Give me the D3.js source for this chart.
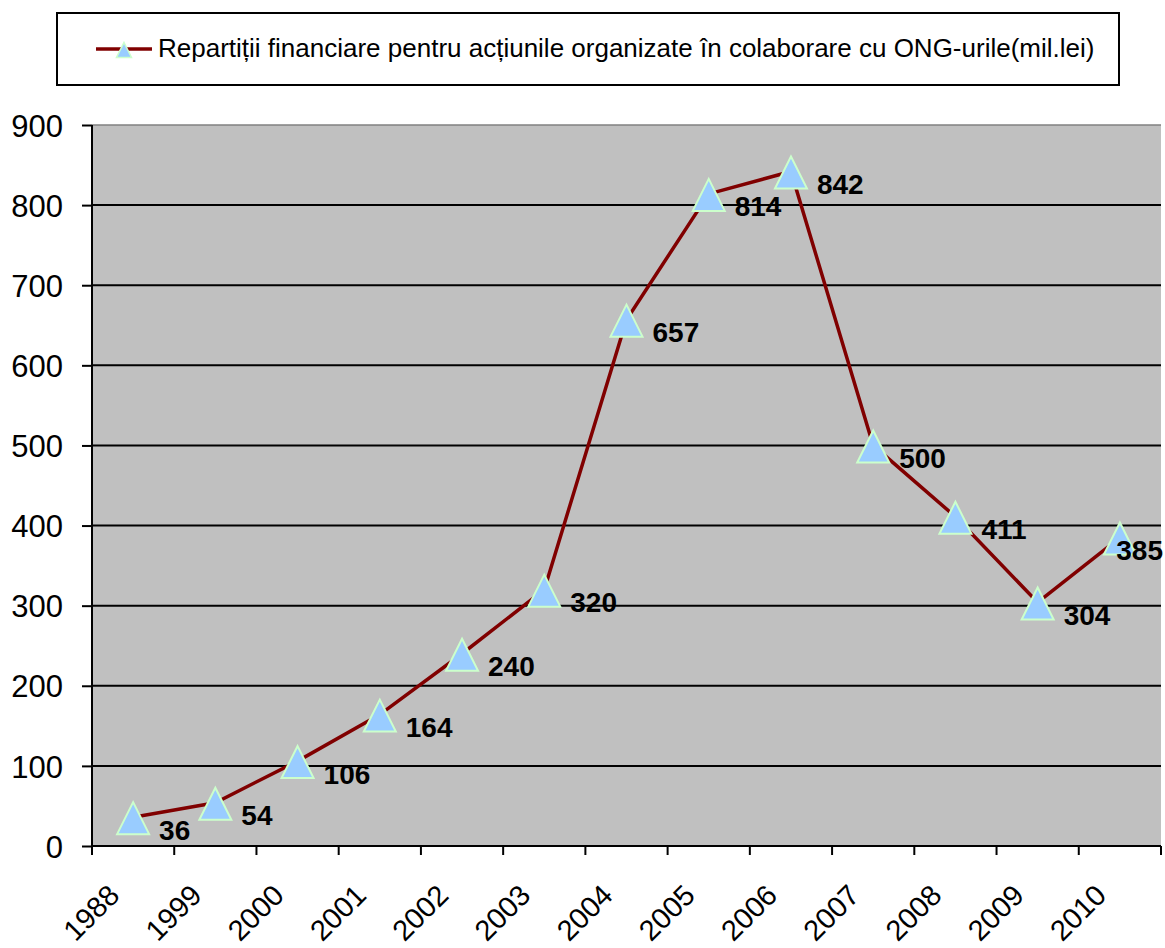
<!DOCTYPE html>
<html>
<head>
<meta charset="utf-8">
<style>
	body { margin: 0; background: #fff; }
	text { font-family: "Liberation Sans", Arial, sans-serif; }
	.grid line { stroke: #000; stroke-width: 2px; }
</style>
</head>
<body>
<svg width="1165" height="948"></svg>
<script src="https://cdnjs.cloudflare.com/ajax/libs/d3/7.8.5/d3.min.js"></script>
<script>

	var years = ["1988", "1999", "2000", "2001", "2002", "2003", "2004", "2005", "2006", "2007", "2008", "2009", "2010"];
	var values = [36, 54, 106, 164, 240, 320, 657, 814, 842, 500, 411, 304, 385];
	var yTicks = [0, 100, 200, 300, 400, 500, 600, 700, 800, 900];
	var seriesName = "Repartiții financiare pentru acțiunile organizate în colaborare cu ONG-urile(mil.lei)";

	var svg = d3.select("svg"),
		width = +svg.attr("width");
	var margin = { left: 92, right: 1161, top: 125, bottom: 846 };

	var x = d3.scaleBand().domain(years).range([margin.left, margin.right]);
	var y = d3.scaleLinear().domain([0, 900]).range([margin.bottom, margin.top]);

	// isosceles triangle, as wide as it is tall
	var triangle = {
		draw: function (context, size) {
			var h = Math.sqrt(size);
			context.moveTo(0, -h / 2);
			context.lineTo(h / 2, h / 2);
			context.lineTo(-h / 2, h / 2);
			context.closePath();
		}
	};

	// plot area
	svg.append("rect")
		.attr("x", margin.left)
		.attr("y", margin.top)
		.attr("width", margin.right - margin.left)
		.attr("height", margin.bottom - margin.top)
		.attr("fill", "#c0c0c0");
	svg.append("line")
		.attr("x1", margin.left).attr("x2", margin.right)
		.attr("y1", margin.top).attr("y2", margin.top)
		.attr("stroke", "#808080").attr("stroke-width", 1.5);

	// gridlines
	svg.append("g")
		.attr("class", "grid")
		.selectAll("line")
		.data(yTicks.filter(function (d) { return d > 0 && d < 900; }))
		.enter().append("line")
		.attr("x1", margin.left).attr("x2", margin.right)
		.attr("y1", function (d) { return y(d); })
		.attr("y2", function (d) { return y(d); });

	// y axis
	var yAxis = svg.append("g")
		.attr("transform", "translate(" + margin.left + ",0)")
		.call(d3.axisLeft(y).tickValues(yTicks).tickSize(10).tickPadding(19));
	yAxis.select(".domain").attr("stroke", "#000").attr("stroke-width", 2).attr("d", "M0," + margin.top + "V" + (margin.bottom + 9));
	yAxis.selectAll(".tick line").attr("stroke", "#000").attr("stroke-width", 2);
	yAxis.selectAll(".tick text")
		.attr("font-family", "Liberation Sans, Arial, sans-serif")
		.attr("font-size", 31).attr("fill", "#000").attr("dy", "0.36em");

	// x axis (ticks at band boundaries)
	var xb = svg.append("g").attr("transform", "translate(0," + margin.bottom + ")");
	xb.append("line")
		.attr("x1", margin.left).attr("x2", margin.right)
		.attr("stroke", "#000").attr("stroke-width", 2);
	xb.selectAll("line.tk")
		.data(years.concat(["end"]))
		.enter().append("line")
		.attr("class", "tk")
		.attr("x1", function (d, i) { return margin.left + i * x.step(); })
		.attr("x2", function (d, i) { return margin.left + i * x.step(); })
		.attr("y1", 0).attr("y2", 9)
		.attr("stroke", "#000").attr("stroke-width", 2);
	xb.selectAll("text")
		.data(years)
		.enter().append("text")
		.attr("transform", function (d) {
			return "translate(" + (x(d) + x.bandwidth() / 2 - 12) + ",51) rotate(-45)";
		})
		.attr("text-anchor", "end")
		.attr("font-size", 29)
		.text(function (d) { return d; });

	// series line
	var line = d3.line()
		.x(function (d, i) { return x(years[i]) + x.bandwidth() / 2; })
		.y(function (d) { return y(d); });
	svg.append("path")
		.datum(values)
		.attr("d", line)
		.attr("fill", "none")
		.attr("stroke", "#800000")
		.attr("stroke-width", 3.5);

	svg.selectAll("path.pt")
		.data(values)
		.enter().append("path")
		.attr("class", "pt")
		.attr("d", d3.symbol().type(triangle).size(32 * 32))
		.attr("transform", function (d, i) {
			return "translate(" + (x(years[i]) + x.bandwidth() / 2) + "," + (y(d) + 1) + ")";
		})
		.attr("fill", "#99ccff")
		.attr("stroke", "#ccffcc")
		.attr("stroke-width", 2);

	var lbl = svg.selectAll("text.lbl")
		.data(values)
		.enter().append("text")
		.attr("class", "lbl")
		.attr("y", function (d) { return y(d) + 22.5; })
		.attr("font-size", 28)
		.attr("font-weight", "bold")
		.text(function (d) { return d; });
	// keep labels inside the picture
	lbl.attr("x", function (d, i) {
		var px = x(years[i]) + x.bandwidth() / 2 + 26;
		return Math.min(px, width - 2 - this.getComputedTextLength());
	});

	// legend
	var lg = svg.append("g");
	lg.append("rect")
		.attr("x", 57).attr("y", 13).attr("width", 1062).attr("height", 72)
		.attr("fill", "#fff").attr("stroke", "#000").attr("stroke-width", 2);
	lg.append("line")
		.attr("x1", 96).attr("x2", 152).attr("y1", 49).attr("y2", 49)
		.attr("stroke", "#800000").attr("stroke-width", 3.5);
	lg.append("path")
		.attr("d", d3.symbol().type(triangle).size(15 * 15))
		.attr("transform", "translate(124,50)")
		.attr("fill", "#99ccff").attr("stroke", "#ccffcc").attr("stroke-width", 1.5);
	lg.append("text")
		.attr("x", 158).attr("y", 57)
		.attr("font-size", 26)
		.text(seriesName);

</script>
</body>
</html>
